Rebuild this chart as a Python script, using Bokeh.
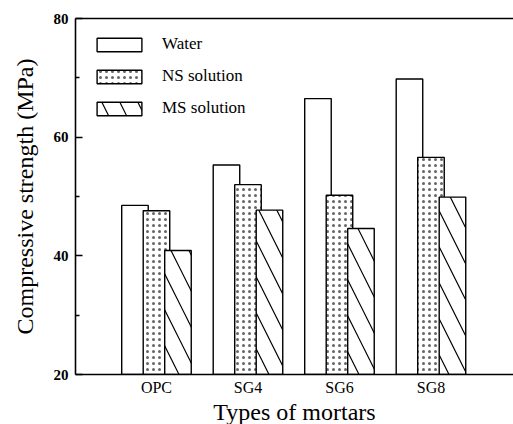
from bokeh.plotting import figure
from bokeh.models import FixedTicker, LinearAxis, Range1d, Legend, LegendItem
from bokeh.embed import file_html
from bokeh.resources import INLINE

categories = ["OPC", "SG4", "SG6", "SG8"]
water = [48.5, 55.3, 66.5, 69.8]
ns_solution = [47.6, 52.0, 50.2, 56.6]
ms_solution = [40.9, 47.7, 44.6, 49.9]
series_names = ["Water", "NS solution", "MS solution"]
y_ticks = [20, 40, 60, 80]
y_minor_ticks = [30, 50, 70]

SERIF = "Liberation Serif"
x_pos = list(range(1, len(categories) + 1))
offsets = [-0.235, 0.0, 0.235]
bar_w = 0.29

p = figure(frame_width=438, frame_height=356,
           x_range=Range1d(0.115, 4.902), y_range=Range1d(20, 80),
           output_backend="svg", toolbar_location=None,
           min_border_left=75, min_border_top=18, min_border_right=0,
           min_border_bottom=50, background_fill_color="white",
           border_fill_color="white")
p.outline_line_color = None
p.xgrid.visible = False
p.ygrid.visible = False

styles = [
    dict(fill_color="white"),
    dict(fill_color="white", hatch_pattern="dot", hatch_color="black",
         hatch_scale=6, hatch_weight=0.4, hatch_alpha=0.6),
    dict(fill_color="white", hatch_pattern="left_diagonal_line",
         hatch_color="black", hatch_scale=36, hatch_weight=1.2),
]
renderers = []
for vals, off, st in zip([water, ns_solution, ms_solution], offsets, styles):
    r = p.vbar(x=[x + off for x in x_pos], top=vals, bottom=20, width=bar_w,
               line_color="black", line_width=1.4, **st)
    renderers.append(r)

legend = Legend(items=[LegendItem(label=n, renderers=[r]) for n, r in zip(series_names, renderers)],
                location="top_left", border_line_color=None, background_fill_alpha=0,
                glyph_width=56, glyph_height=17, label_height=17, label_standoff=15,
                spacing=12, padding=0, margin=16,
                label_text_font=SERIF, label_text_font_size="17px",
                label_text_color="black")
p.add_layout(legend)

# y axis
ya = p.yaxis[0]
ya.ticker = FixedTicker(ticks=y_ticks, minor_ticks=y_minor_ticks)
ya.major_tick_in = 7
ya.major_tick_out = 0
ya.minor_tick_in = 4
ya.minor_tick_out = 0
ya.axis_line_width = 1.6
ya.axis_line_color = "black"
ya.major_tick_line_color = "black"
ya.minor_tick_line_color = "black"
ya.major_tick_line_width = 1.4
ya.minor_tick_line_width = 1.4
ya.major_label_standoff = 7
ya.major_label_text_font = SERIF
ya.major_label_text_font_style = "bold"
ya.major_label_text_font_size = "15px"
ya.major_label_text_color = "black"
ya.axis_label = "Compressive strength (MPa)"
ya.axis_label_text_font = SERIF
ya.axis_label_text_font_style = "normal"
ya.axis_label_text_font_size = "24px"
ya.axis_label_text_color = "black"
ya.axis_label_standoff = 13

# x axis
xa = p.xaxis[0]
xa.ticker = FixedTicker(ticks=x_pos, minor_ticks=[])
xa.major_label_overrides = {x: c for x, c in zip(x_pos, categories)}
xa.major_tick_line_color = None
xa.major_tick_in = 0
xa.major_tick_out = 0
xa.minor_tick_line_color = None
xa.axis_line_width = 1.6
xa.axis_line_color = "black"
xa.major_label_standoff = 4
xa.major_label_text_font = SERIF
xa.major_label_text_font_size = "16px"
xa.major_label_text_color = "black"
xa.axis_label = "Types of mortars"
xa.axis_label_text_font = SERIF
xa.axis_label_text_font_style = "normal"
xa.axis_label_text_font_size = "24px"
xa.axis_label_text_color = "black"
xa.axis_label_standoff = 0

# top frame line
top = LinearAxis(ticker=FixedTicker(ticks=[]), major_tick_in=0, major_tick_out=0,
                 major_label_standoff=0, axis_line_width=1.6, axis_line_color="black")
p.add_layout(top, "above")

open("out.html", "w").write(file_html(p, INLINE))
